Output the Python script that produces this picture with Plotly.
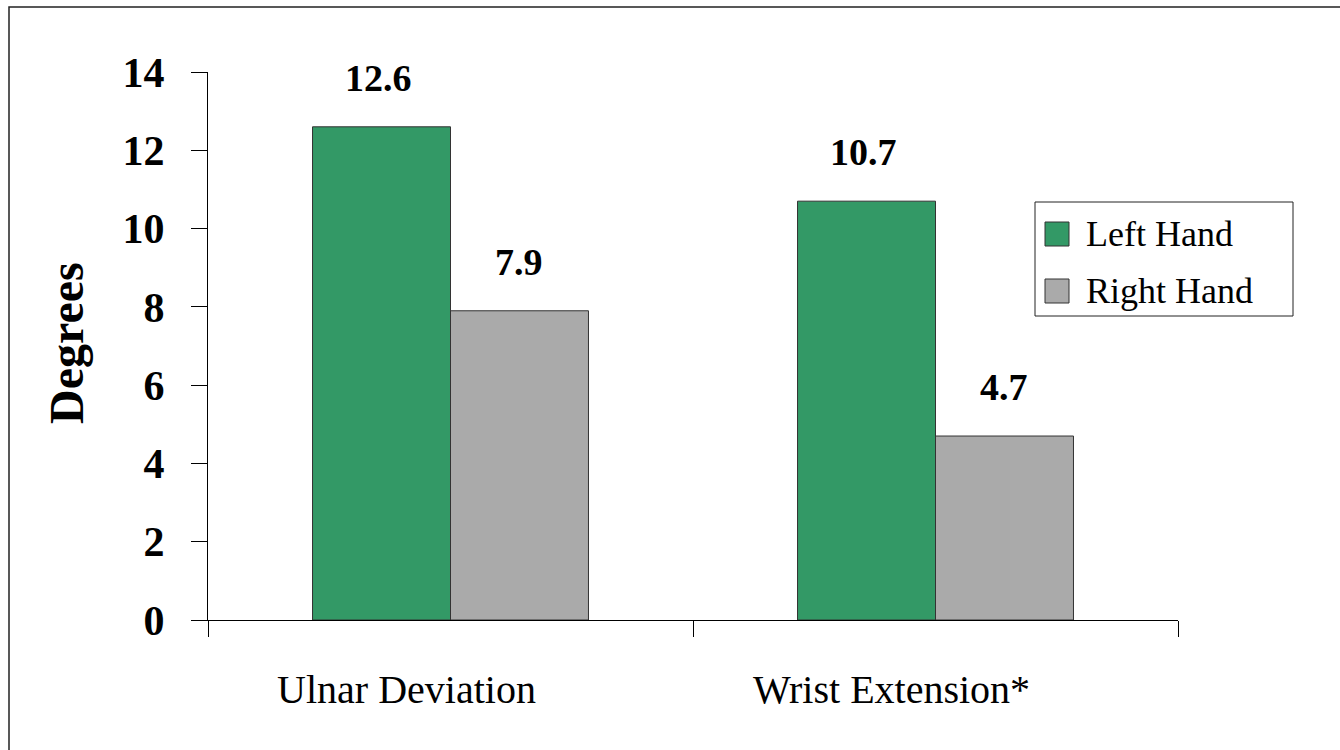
import plotly.graph_objects as go

# Wrist posture angles by hand
categories = ["Ulnar Deviation", "Wrist Extension*"]
left_hand = [12.6, 10.7]
right_hand = [7.9, 4.7]
series_names = ["Left Hand", "Right Hand"]
series_colors = ["#339966", "#AAAAAA"]
y_ticks = [0, 2, 4, 6, 8, 10, 12, 14]

SERIF = "Liberation Serif"
W, H = 1340, 750
L, R, T, B = 208, 162, 72, 130
pw, ph = W - L - R, H - T - B


def px_x(x):
    return (x - L) / pw


def px_y(y):
    return (H - B - y) / ph


fig = go.Figure()
for name, vals, color in zip(series_names, [left_hand, right_hand], series_colors):
    fig.add_trace(go.Bar(
        x=categories, y=vals, name=name,
        marker=dict(color=color, line=dict(color="#333333", width=1)),
        showlegend=False,
    ))

# value labels above each bar
for i, (name, vals) in enumerate(zip(series_names, [left_hand, right_hand])):
    for cat, v in zip(categories, vals):
        fig.add_annotation(
            x=cat, y=v, text=f"{v:.1f}", showarrow=False,
            xref="x", yref="y", yanchor="bottom", yshift=26,
            xshift=(-72 if i == 0 else 68),
            font=dict(family=SERIF, size=38, color="black", weight="bold"),
        )

# y-axis title
fig.add_annotation(
    x=px_x(66), y=px_y(343), xref="paper", yref="paper",
    xanchor="center", yanchor="middle",
    text="Degrees", textangle=-90, showarrow=False,
    font=dict(family=SERIF, size=48, color="black", weight="bold"),
)

# legend box
shapes = [
    dict(type="rect", xref="paper", yref="paper",
         x0=px_x(1035), x1=px_x(1293), y0=px_y(316), y1=px_y(202),
         line=dict(color="#222222", width=1), fillcolor="white"),
    # outer frame
    dict(type="rect", xref="paper", yref="paper",
         x0=px_x(9), x1=px_x(1360), y0=px_y(770), y1=px_y(7),
         line=dict(color="#222222", width=1.5), fillcolor="rgba(0,0,0,0)"),
]
for (cy, color, name) in [(234, series_colors[0], series_names[0]),
                           (291, series_colors[1], series_names[1])]:
    shapes.append(dict(type="rect", xref="paper", yref="paper",
                       x0=px_x(1045), x1=px_x(1069), y0=px_y(cy + 12), y1=px_y(cy - 12),
                       line=dict(color="#333333", width=1), fillcolor=color))
    fig.add_annotation(x=px_x(1084), y=px_y(cy), xref="paper", yref="paper",
                       text=name, showarrow=False, xanchor="left", yanchor="middle",
                       font=dict(family=SERIF, size=36, color="black"))

fig.update_layout(
    width=W, height=H,
    margin=dict(l=L, r=R, t=T, b=B),
    paper_bgcolor="white", plot_bgcolor="white",
    barmode="group", bargap=0.431, bargroupgap=0,
    shapes=shapes,
    showlegend=False,
)
fig.update_yaxes(
    range=[0, 14], tickvals=y_ticks, showgrid=False, zeroline=False,
    showline=True, linecolor="black", linewidth=1,
    ticks="outside", ticklen=16, tickcolor="black", ticklabelstandoff=18,
    tickfont=dict(family=SERIF, size=42, color="black", weight="bold"),
)
fig.update_xaxes(
    showgrid=False, showline=True, linecolor="black", linewidth=1,
    ticks="outside", ticklen=16, tickcolor="black", tickson="boundaries",
    ticklabelstandoff=34, ticklabelshift=-44,
    tickfont=dict(family=SERIF, size=40, color="black"),
)

fig.write_html("out.html")
